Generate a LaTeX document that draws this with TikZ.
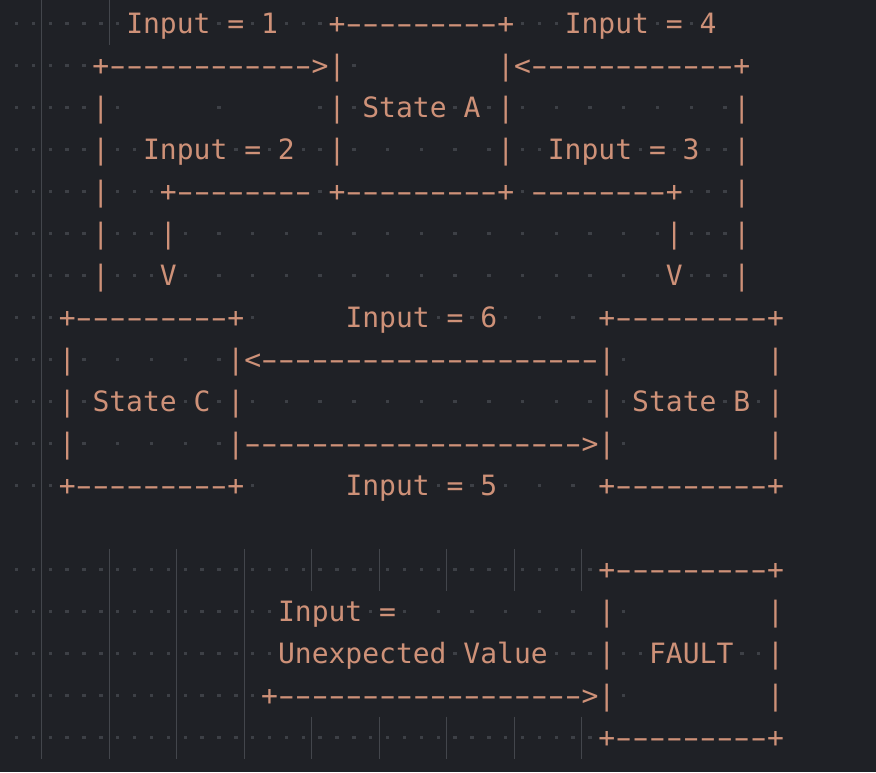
\documentclass[tikz,border=0pt]{standalone}
\usepackage{fontspec}
\setmonofont{DejaVu Sans Mono}
\newfontfamily\dashfont[FakeStretch=1.7]{DejaVu Sans Mono}
\definecolor{bgc}{HTML}{1F2126}
\definecolor{txtc}{HTML}{CE9178}
\definecolor{dotc}{HTML}{3D4046}
\definecolor{guidec}{HTML}{43464C}
\tikzset{
  txt/.style={font=\ttfamily\fontsize{28}{28}\selectfont, text=txtc, inner sep=0pt, outer sep=0pt},
  dashglyph/.style={font=\dashfont\fontsize{28}{28}\selectfont, text=txtc, inner sep=0pt, outer sep=0pt, anchor=base},
  ws/.style={fill=dotc},
  guide/.style={draw=guidec, line width=1.1pt},
}
\newcommand\Wd[4]{\node[txt,anchor=base west] (#1) at ({8.2+16.865*#3},{33.1+42*#2}) {#4};}
\newcommand\Ch[3]{\node[txt,anchor=base] (r#1c#2) at ({16.6+16.865*#2},{33.1+42*#1}) {#3};}
\newcommand\Ds[3]{\foreach \c in {#2,...,#3}{\node[dashglyph] (r#1c\c) at ({16.6+16.865*\c},{33.1+42*#1}) {-};}}
\newcommand\Sp[2]{\foreach \c in {#2}{\fill[ws] ({16.6+16.865*\c-1.7},{23.5+42*#1-1.7}) rectangle ({16.6+16.865*\c+1.7},{23.5+42*#1+1.7});}}
\begin{document}
\begin{tikzpicture}[x=1pt,y=-1pt]
\fill[bgc] (0,0) rectangle (876,772);
\useasboundingbox (0,0) rectangle (876,772);
% indent guides
\draw[guide] (41.93,0) -- (41.93,758.5);
\draw[guide] (109.39,0) -- (109.39,44.5);
\foreach \gx in {109.39,176.85,244.31} {\draw[guide] (\gx,548.5) -- (\gx,758.5);}
\foreach \gx in {311.77,379.23,446.69,514.15,581.61} {
  \draw[guide] (\gx,548.5) -- (\gx,590.5);
  \draw[guide] (\gx,716.5) -- (\gx,758.5);
}
% row 0
\Sp{0}{0,...,6,12,14,16,17,18,30,31,32,38,40}
\Wd{in1}{0}{7}{Input = 1}
\Ch{0}{19}{+}\Ds{0}{20}{28}\Ch{0}{29}{+}
\Wd{in4}{0}{33}{Input = 4}
% row 1
\Sp{1}{0,...,4,20,...,28}
\Ch{1}{5}{+}\Ds{1}{6}{17}\Ch{1}{18}{>}\Ch{1}{19}{|}
\Ch{1}{29}{|}\Ch{1}{30}{<}\Ds{1}{31}{42}\Ch{1}{43}{+}
% row 2
\Sp{2}{0,...,4,6,...,18,20,26,28,30,...,42}
\Ch{2}{5}{|}\Ch{2}{19}{|}
\Wd{stA}{2}{21}{State A}
\Ch{2}{29}{|}\Ch{2}{43}{|}
% row 3
\Sp{3}{0,...,4,6,7,13,15,17,18,20,...,28,30,31,37,39,41,42}
\Ch{3}{5}{|}
\Wd{in2}{3}{8}{Input = 2}
\Ch{3}{19}{|}\Ch{3}{29}{|}
\Wd{in3}{3}{32}{Input = 3}
\Ch{3}{43}{|}
% row 4
\Sp{4}{0,...,4,6,7,8,18,30,40,41,42}
\Ch{4}{5}{|}\Ch{4}{9}{+}\Ds{4}{10}{17}
\Ch{4}{19}{+}\Ds{4}{20}{28}\Ch{4}{29}{+}
\Ds{4}{31}{38}\Ch{4}{39}{+}\Ch{4}{43}{|}
% row 5
\Sp{5}{0,...,4,6,7,8,10,...,38,40,41,42}
\Ch{5}{5}{|}\Ch{5}{9}{|}\Ch{5}{39}{|}\Ch{5}{43}{|}
% row 6
\Sp{6}{0,...,4,6,7,8,10,...,38,40,41,42}
\Ch{6}{5}{|}\Ch{6}{9}{V}\Ch{6}{39}{V}\Ch{6}{43}{|}
% row 7
\Sp{7}{0,1,2,14,...,19,25,27,29,...,34}
\Ch{7}{3}{+}\Ds{7}{4}{12}\Ch{7}{13}{+}
\Wd{in6}{7}{20}{Input = 6}
\Ch{7}{35}{+}\Ds{7}{36}{44}\Ch{7}{45}{+}
% row 8
\Sp{8}{0,1,2,4,...,12,36,...,44}
\Ch{8}{3}{|}\Ch{8}{13}{|}\Ch{8}{14}{<}\Ds{8}{15}{34}\Ch{8}{35}{|}\Ch{8}{45}{|}
% row 9
\Sp{9}{0,1,2,4,10,12,14,...,34,36,42,44}
\Ch{9}{3}{|}
\Wd{stC}{9}{5}{State C}
\Ch{9}{13}{|}\Ch{9}{35}{|}
\Wd{stB}{9}{37}{State B}
\Ch{9}{45}{|}
% row 10
\Sp{10}{0,1,2,4,...,12,36,...,44}
\Ch{10}{3}{|}\Ch{10}{13}{|}\Ds{10}{14}{33}\Ch{10}{34}{>}\Ch{10}{35}{|}\Ch{10}{45}{|}
% row 11
\Sp{11}{0,1,2,14,...,19,25,27,29,...,34}
\Ch{11}{3}{+}\Ds{11}{4}{12}\Ch{11}{13}{+}
\Wd{in5}{11}{20}{Input = 5}
\Ch{11}{35}{+}\Ds{11}{36}{44}\Ch{11}{45}{+}
% row 13
\Sp{13}{0,...,34}
\Ch{13}{35}{+}\Ds{13}{36}{44}\Ch{13}{45}{+}
% row 14
\Sp{14}{0,...,15,21,23,...,34,36,...,44}
\Wd{inU1}{14}{16}{Input =}
\Ch{14}{35}{|}\Ch{14}{45}{|}
% row 15
\Sp{15}{0,...,15,26,32,33,34,36,37,43,44}
\Wd{inU2}{15}{16}{Unexpected Value}
\Ch{15}{35}{|}
\Wd{fault}{15}{38}{FAULT}
\Ch{15}{45}{|}
% row 16
\Sp{16}{0,...,14,36,...,44}
\Ch{16}{15}{+}\Ds{16}{16}{33}\Ch{16}{34}{>}\Ch{16}{35}{|}\Ch{16}{45}{|}
% row 17
\Sp{17}{0,...,34}
\Ch{17}{35}{+}\Ds{17}{36}{44}\Ch{17}{45}{+}
\end{tikzpicture}
\end{document}
